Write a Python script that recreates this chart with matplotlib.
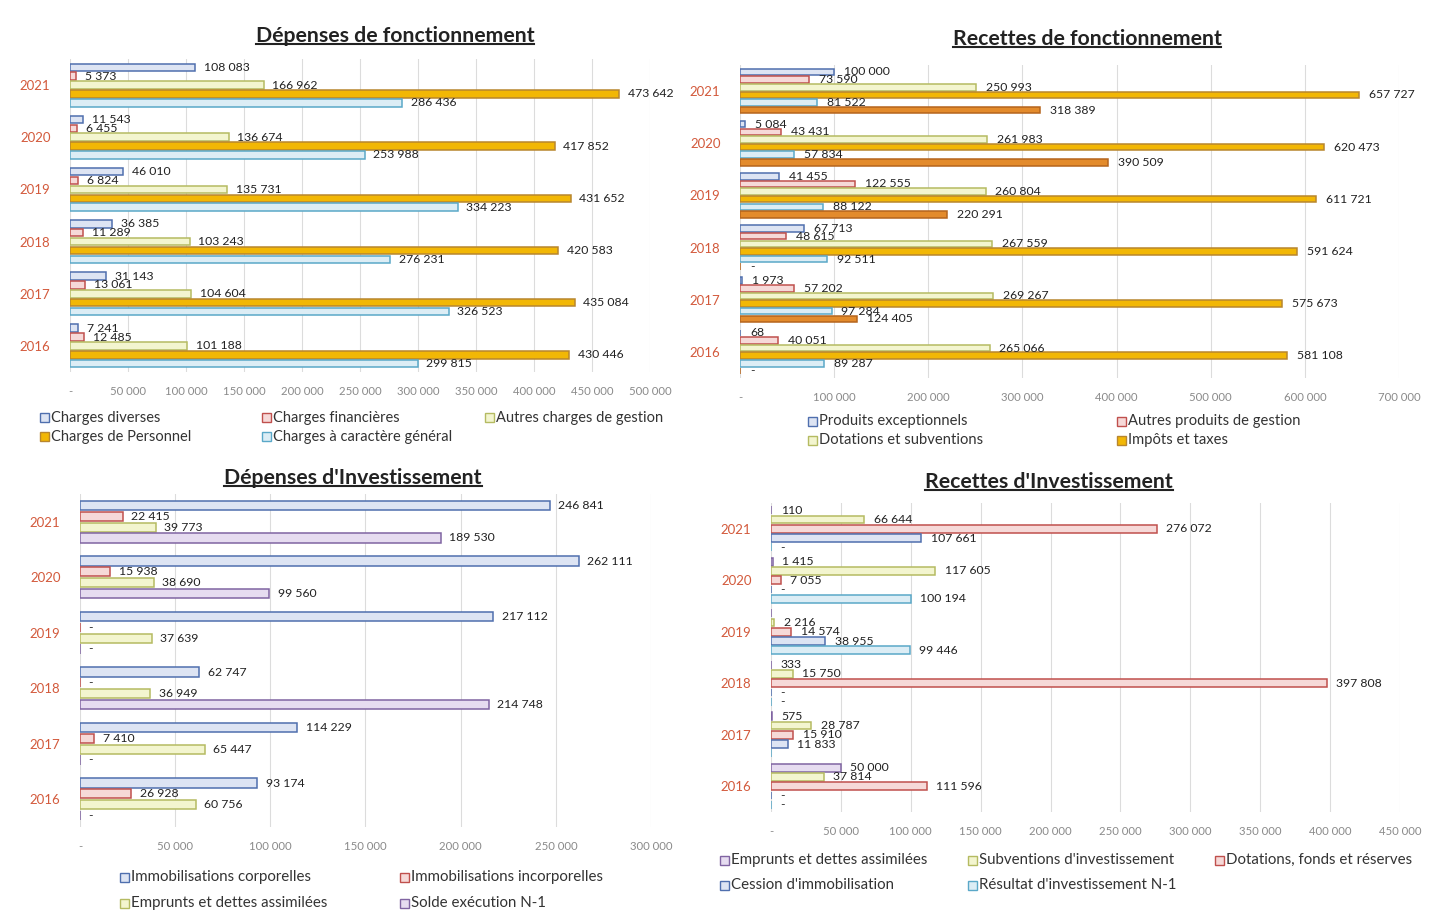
import matplotlib.pyplot as plt
from matplotlib.patches import Rectangle
from matplotlib.lines import Line2D
import numpy as np

plt.rcParams['font.family'] = ['Lato', 'DejaVu Sans']

years = ['2021', '2020', '2019', '2018', '2017', '2016']
nan = np.nan

# Dépenses de fonctionnement
charges_diverses = [108083, 11543, 46010, 36385, 31143, 7241]
charges_financieres = [5373, 6455, 6824, 11289, 13061, 12485]
autres_charges = [166962, 136674, 135731, 103243, 104604, 101188]
charges_personnel = [473642, 417852, 431652, 420583, 435084, 430446]
charges_generales = [286436, 253988, 334223, 276231, 326523, 299815]
dep_fonc_names = ['Charges diverses', 'Charges financières', 'Autres charges de gestion',
                  'Charges de Personnel', 'Charges à caractère général']

# Recettes de fonctionnement
produits_exc = [100000, 5084, 41455, 67713, 1973, 68]
autres_produits = [73590, 43431, 122555, 48615, 57202, 40051]
dotations_subv = [250993, 261983, 260804, 267559, 269267, 265066]
impots_taxes = [657727, 620473, 611721, 591624, 575673, 581108]
recettes_5 = [81522, 57834, 88122, 92511, 97284, 89287]
recettes_6 = [318389, 390509, 220291, 0, 124405, 0]
rec_fonc_names = ['Produits exceptionnels', 'Autres produits de gestion',
                  'Dotations et subventions', 'Impôts et taxes']

# Dépenses d'investissement
immo_corp = [246841, 262111, 217112, 62747, 114229, 93174]
immo_incorp = [22415, 15938, 0, 0, 7410, 26928]
emprunts_dep = [39773, 38690, 37639, 36949, 65447, 60756]
solde_n1 = [189530, 99560, 0, 214748, 0, 0]
dep_inv_names = ['Immobilisations corporelles', 'Immobilisations incorporelles',
                 'Emprunts et dettes assimilées', 'Solde exécution N-1']

# Recettes d'investissement
emprunts_rec = [110, 1415, nan, 333, 575, 50000]
subventions = [66644, 117605, 2216, 15750, 28787, 37814]
dotations_fonds = [276072, 7055, 14574, 397808, 15910, 111596]
cession = [107661, 0, 38955, 0, 11833, 0]
resultat_n1 = [0, 100194, 99446, 0, nan, 0]
rec_inv_names = ['Emprunts et dettes assimilées', "Subventions d'investissement",
                 'Dotations, fonds et réserves', "Cession d'immobilisation",
                 "Résultat d'investissement N-1"]

# colours (fill, edge)
BLUE = ('#dde4f3', '#4f6fae')
RED = ('#f6d9d8', '#c0504d')
YEL = ('#f3f5cf', '#b5bb62')
GOLD = ('#f2b705', '#b8862e')
LBLUE = ('#dcedf5', '#5aa8c8')
DORANGE = ('#e38b2c', '#b5651d')
PURPLE = ('#e6dcf0', '#8064a2')

W, H = 1440, 913
fig = plt.figure(figsize=(14.4, 9.13), dpi=100)


def fmt(v):
    return '{:,}'.format(int(v)).replace(',', ' ')


def rect(x0, x1, y0, y1):
    return [x0 / W, 1 - y1 / H, (x1 - x0) / W, (y1 - y0) / H]


def panel(r, series, cols, xmax, step, group):
    ax = fig.add_axes(r)
    n = len(series)
    h = group / n
    y = np.arange(len(years))
    for i, (vals, (fc, ec)) in enumerate(zip(series, cols)):
        pos = y - group / 2 + (i + 0.5) * h
        vals = np.array(vals, dtype=float)
        ax.barh(pos, np.nan_to_num(vals), height=h * 0.85, color=fc,
                edgecolor=ec, linewidth=1.1, zorder=2)
        for p, v in zip(pos, vals):
            if np.isnan(v):
                continue
            txt = '-' if v == 0 else fmt(v)
            ax.text(v + xmax * 0.015, p, txt, va='center', ha='left',
                    fontsize=8.8, color='#222222', zorder=3)
    ax.set_ylim(len(years) - 0.5, -0.5)
    ax.set_yticks(y, years)
    ax.set_xlim(0, xmax)
    ticks = np.arange(0, xmax + 1, step)
    ax.set_xticks(ticks, ['-' if t == 0 else fmt(t) for t in ticks])
    ax.tick_params(axis='y', length=0, labelsize=9.5, labelcolor='#d35a3c', pad=14)
    ax.tick_params(axis='x', length=0, labelsize=8.2, labelcolor='#8a8a8a', pad=10)
    ax.grid(axis='x', color='#dcdcdc', linewidth=0.8, zorder=0)
    for s in ax.spines.values():
        s.set_visible(False)
    return ax


def legend(names, cols, spots, size):
    # spots: pixel (x, y) of each legend item, in the order of names
    for name, (fc, ec), (x, y) in zip(names, cols, spots):
        fig.add_artist(Rectangle((x / W, 1 - (y + 4.5) / H), 9 / W, 9 / H,
                                 facecolor=fc, edgecolor=ec, linewidth=1.0,
                                 transform=fig.transFigure))
        fig.text((x + 11) / W, 1 - y / H, name, ha='left', va='center',
                 fontsize=size, color='#333333')


def title(txt, x, y):
    return fig.text(x / W, 1 - y / H, txt, ha='center', va='center', fontsize=15.3,
                    fontweight='bold', color='#222222')


panel(rect(70, 650, 59, 372),
      [charges_diverses, charges_financieres, autres_charges, charges_personnel, charges_generales],
      [BLUE, RED, YEL, GOLD, LBLUE], 500000, 50000, 0.85)
panel(rect(740, 1399, 65, 378),
      [produits_exc, autres_produits, dotations_subv, impots_taxes, recettes_5, recettes_6],
      [BLUE, RED, YEL, GOLD, LBLUE, DORANGE], 700000, 100000, 0.88)
panel(rect(80, 651, 494, 827),
      [immo_corp, immo_incorp, emprunts_dep, solde_n1],
      [BLUE, RED, YEL, PURPLE], 300000, 50000, 0.78)
panel(rect(771, 1400, 503, 812),
      [emprunts_rec, subventions, dotations_fonds, cession, resultat_n1],
      [PURPLE, YEL, RED, BLUE, LBLUE], 450000, 50000, 0.9)

legend(dep_fonc_names, [BLUE, RED, YEL, GOLD, LBLUE],
       [(40, 418), (262, 418), (485, 418), (40, 437), (262, 437)], 10.5)
legend(rec_fonc_names, [BLUE, RED, YEL, GOLD],
       [(808, 421), (1117, 421), (808, 440), (1117, 440)], 10.6)
legend(dep_inv_names, [BLUE, RED, YEL, PURPLE],
       [(120, 877), (400, 877), (120, 903), (400, 903)], 10.8)
legend(rec_inv_names, [PURPLE, YEL, RED, BLUE, LBLUE],
       [(720, 860), (968, 860), (1215, 860), (720, 885), (968, 885)], 10.8)

titles = [title('Dépenses de fonctionnement', 395, 36),
          title('Recettes de fonctionnement', 1087, 39),
          title("Dépenses d'Investissement", 353, 478),
          title("Recettes d'Investissement", 1049, 482)]

fig.canvas.draw()
rend = fig.canvas.get_renderer()
for t in titles:
    bb = t.get_window_extent(renderer=rend).transformed(fig.transFigure.inverted())
    fig.add_artist(Line2D([bb.x0, bb.x1], [bb.y0 + 0.002, bb.y0 + 0.002],
                          color='#222222', linewidth=1.5, transform=fig.transFigure))

fig.savefig('out.png', dpi=100, facecolor='white')
